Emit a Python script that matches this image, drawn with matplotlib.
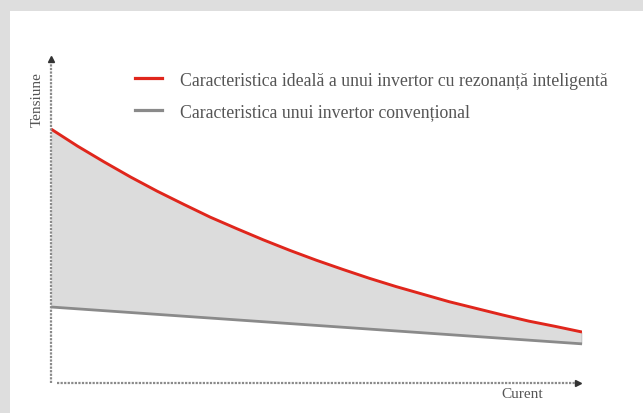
import numpy as np
import matplotlib
matplotlib.use("Agg")
import matplotlib.pyplot as plt
from matplotlib.lines import Line2D
from matplotlib.patches import Rectangle

# values (x = current, y = voltage, arbitrary units)
current = [0, 5, 10, 15, 20, 25, 30, 35, 40, 45, 50, 55, 60, 65, 70, 75, 80, 85, 90, 95, 100]
ideal = [77.2, 72.0, 67.2, 62.6, 58.3, 54.3, 50.4, 46.9, 43.5, 40.3, 37.3, 34.5,
         31.8, 29.3, 27.0, 24.7, 22.7, 20.7, 18.8, 17.2, 15.5]
conv_x = [0, 100]
conv = [23.1, 11.9]

labels = ["Caracteristica ideală a unui invertor cu rezonanță inteligentă",
          "Caracteristica unui invertor convențional"]
xlabel = "Curent"
ylabel = "Tensiune"

RED = "#e0261c"
GREY = "#8a8a8a"
TXT = "#555555"
W, H = 643, 414

plt.rcParams["font.family"] = ["Liberation Serif", "DejaVu Serif"]

fig = plt.figure(figsize=(W / 100, H / 100), dpi=100)
fig.patch.set_facecolor("#dedede")
fig.add_artist(Rectangle((10 / W, 0), 1, 1 - 12 / H, transform=fig.transFigure,
                         facecolor="white", edgecolor="none", zorder=0))

ax = fig.add_axes([51 / W, 30 / H, 531 / W, 329 / H])
ax.set_xlim(0, 100)
ax.set_ylim(0, 100)
ax.axis("off")

conv_interp = np.interp(current, conv_x, conv)
ax.fill_between(current, conv_interp, ideal, color="#dcdcdc", lw=0, zorder=1)
ax.plot(conv_x, conv, color=GREY, lw=2, solid_capstyle="butt", zorder=3)
ax.plot(current, ideal, color=RED, lw=2.1, solid_capstyle="butt", zorder=4)
ax.plot([100, 100], [conv[-1], ideal[-1]], color=GREY, lw=1, zorder=2)

# dotted axes with arrow heads
ax.plot([0, 0], [0, 98], color=GREY, lw=1.6, ls=(0, (1, 0.6)), clip_on=False, zorder=5)
ax.plot([0], [98.5], marker="^", ms=5, color="#333333", clip_on=False, zorder=5)
ax.plot([1.2, 99], [0, 0], color=GREY, lw=1.6, ls=(0, (1, 0.6)), clip_on=False, zorder=5)
ax.plot([99.2], [0], marker=">", ms=5, color="#333333", clip_on=False, zorder=5)

ax.text(522 / W, 1 - 395 / H, xlabel, transform=fig.transFigure, ha="center",
        va="center", fontsize=11, color=TXT)
ax.text(37 / W, 1 - 100 / H, ylabel, transform=fig.transFigure, ha="center",
        va="center", fontsize=11, color=TXT, rotation=90)

# legend
for i, (lab, col) in enumerate(zip(labels, [RED, GREY])):
    yy = 1 - (79 + 32 * i) / H
    fig.add_artist(Line2D([135 / W, 162 / W], [yy, yy], color=col, lw=2.3))
    fig.text(180 / W, yy - 2 / H, lab, ha="left", va="center", fontsize=12.8, color=TXT)

fig.savefig("out.png", dpi=100)
